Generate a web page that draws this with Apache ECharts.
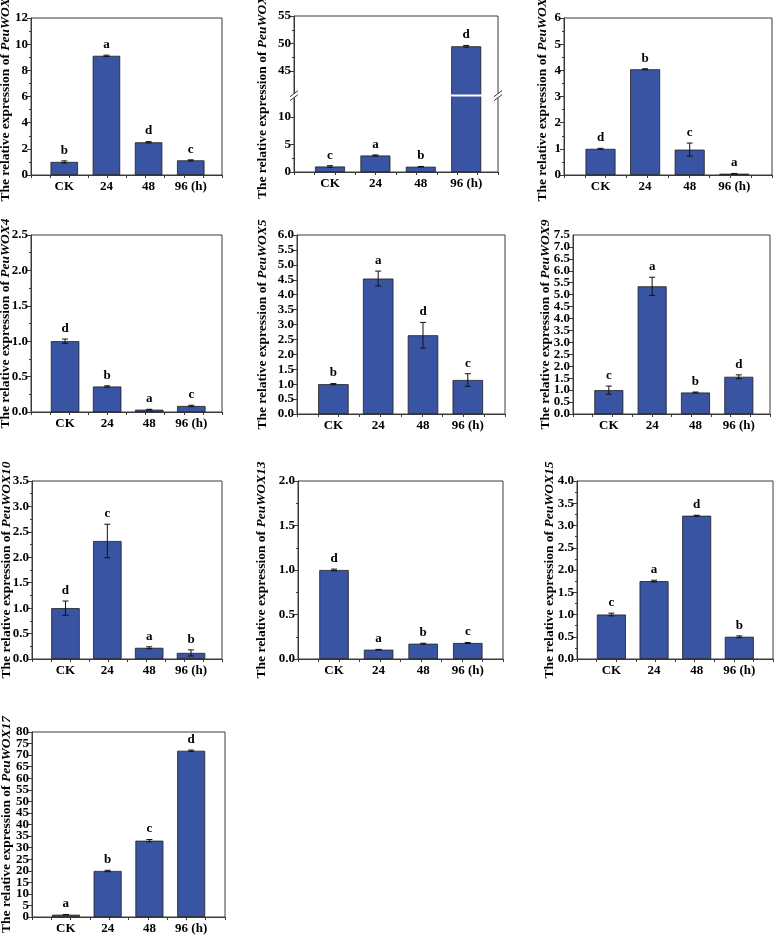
<!DOCTYPE html>
<html>
<head>
<meta charset="utf-8">
<script src="https://cdn.jsdelivr.net/npm/echarts@6/dist/echarts.min.js"></script>
<style>
html,body{margin:0;padding:0;background:#fff;}
#chart{width:774px;height:944px;}
</style>
</head>
<body>
<div id="chart"></div>
<script>
// ---------- DATA ----------
const categories = ['CK', '24', '48', '96 (h)'];
const genes = ['PeuWOX1', 'PeuWOX2', 'PeuWOX3', 'PeuWOX4', 'PeuWOX5', 'PeuWOX9', 'PeuWOX10', 'PeuWOX13', 'PeuWOX15', 'PeuWOX17'];

const wox1Values = [1.0, 9.11, 2.50, 1.12];
const wox1Errors = [0.08, 0.05, 0.05, 0.04];
const wox1Letters = ['b', 'a', 'd', 'c'];

const wox2Values = [1.0, 3.0, 0.96, 49.5];
const wox2Errors = [0.15, 0.1, 0.05, 0.15];
const wox2Letters = ['c', 'a', 'b', 'd'];

const wox3Values = [1.0, 4.04, 0.97, 0.05];
const wox3Errors = [0.02, 0.02, 0.25, 0.01];
const wox3Letters = ['d', 'b', 'c', 'a'];

const wox4Values = [1.0, 0.36, 0.033, 0.085];
const wox4Errors = [0.03, 0.01, 0.005, 0.01];
const wox4Letters = ['d', 'b', 'a', 'c'];

const wox5Values = [1.0, 4.54, 2.64, 1.14];
const wox5Errors = [0.02, 0.25, 0.43, 0.21];
const wox5Letters = ['b', 'a', 'd', 'c'];

const wox9Values = [1.0, 5.35, 0.90, 1.56];
const wox9Errors = [0.17, 0.38, 0.02, 0.08];
const wox9Letters = ['c', 'a', 'b', 'd'];

const wox10Values = [1.0, 2.32, 0.22, 0.12];
const wox10Errors = [0.14, 0.33, 0.02, 0.06];
const wox10Letters = ['d', 'c', 'a', 'b'];

const wox13Values = [1.0, 0.105, 0.172, 0.18];
const wox13Errors = [0.01, 0.003, 0.005, 0.005];
const wox13Letters = ['d', 'a', 'b', 'c'];

const wox15Values = [1.0, 1.75, 3.22, 0.50];
const wox15Errors = [0.03, 0.02, 0.01, 0.02];
const wox15Letters = ['c', 'a', 'd', 'b'];

const wox17Values = [1.0, 19.9, 33.0, 71.9];
const wox17Errors = [0.1, 0.3, 0.5, 0.3];
const wox17Letters = ['a', 'b', 'c', 'd'];

// y-axis tick definitions (max, step, decimals)
const yAxisMax = [12, 55, 6, 2.5, 6.0, 7.5, 3.5, 2.0, 4.0, 80];
const yAxisStep = [2, 5, 1, 0.5, 0.5, 0.5, 0.5, 0.5, 0.5, 5];
const yAxisDecimals = [0, 0, 0, 1, 1, 1, 1, 1, 1, 0];
const yMinorTicks = [true, true, true, true, false, false, true, true, true, false];
// axis break for PeuWOX2 and its visible tick labels
const wox2Break = { start: 13.7, end: 40.7 };
const wox2TickValues = [0, 5, 10, 45, 50, 55];

const allValues = [wox1Values, wox2Values, wox3Values, wox4Values, wox5Values, wox9Values, wox10Values, wox13Values, wox15Values, wox17Values];
const allErrors = [wox1Errors, wox2Errors, wox3Errors, wox4Errors, wox5Errors, wox9Errors, wox10Errors, wox13Errors, wox15Errors, wox17Errors];
const allLetters = [wox1Letters, wox2Letters, wox3Letters, wox4Letters, wox5Letters, wox9Letters, wox10Letters, wox13Letters, wox15Letters, wox17Letters];

// ---------- LAYOUT ----------
const layouts = [
  { left: 31, top: 18, width: 191, height: 157, xMin: 0.211, xMax: 4.741, barWidth: 27.5, nameGap: 18 },
  { left: 294, top: 16, width: 204, height: 156, xMin: 0.207, xMax: 4.70, barWidth: 30, nameGap: 24.5 },
  { left: 564, top: 18, width: 208, height: 157, xMin: 0.181, xMax: 4.846, barWidth: 30, nameGap: 14.5 },
  { left: 31, top: 235, width: 191, height: 177, xMin: 0.19, xMax: 4.73, barWidth: 28.5, nameGap: 18 },
  { left: 297, top: 235, width: 208, height: 179, xMin: 0.188, xMax: 4.83, barWidth: 30.5, nameGap: 27 },
  { left: 573, top: 235, width: 197, height: 179, xMin: 0.173, xMax: 4.72, barWidth: 29, nameGap: 20 },
  { left: 32, top: 481, width: 190, height: 178, xMin: 0.20, xMax: 4.74, barWidth: 28.5, nameGap: 18.5 },
  { left: 298, top: 481, width: 205, height: 178, xMin: 0.192, xMax: 4.79, barWidth: 29.5, nameGap: 29.5 },
  { left: 577, top: 481, width: 196, height: 178, xMin: 0.193, xMax: 4.79, barWidth: 29, nameGap: 20.5 },
  { left: 32, top: 732, width: 193, height: 185, xMin: 0.189, xMax: 4.81, barWidth: 28, nameGap: 18.5 }
];

const FONT = '"Liberation Serif", "Times New Roman", serif';
const AXIS_COLOR = '#3a3a3a';
const BAR_COLOR = '#3a54a4';
const LABEL_STYLE = { fontFamily: FONT, fontWeight: 'bold', fontSize: 13, color: '#000' };

const grids = [], xAxes = [], yAxes = [], overlayAxes = [], series = [];

layouts.forEach((L, i) => {
  grids.push({
    left: L.left, top: L.top, width: L.width, height: L.height,
    show: true, borderColor: AXIS_COLOR, borderWidth: 1, backgroundColor: 'transparent',
    outerBoundsMode: 'none', containLabel: false
  });
  xAxes.push({
    type: 'value', gridIndex: i, min: L.xMin, max: L.xMax,
    interval: (L.xMax - L.xMin) / 10,
    axisLine: { show: true, onZero: false, lineStyle: { color: AXIS_COLOR, width: 1 } },
    axisTick: { show: true, length: 3, inside: false, lineStyle: { color: AXIS_COLOR } },
    splitLine: { show: false },
    axisLabel: Object.assign({
      customValues: [1, 2, 3, 4],
      formatter: v => categories[Math.round(v) - 1] || '',
      margin: 5, hideOverlap: false
    }, LABEL_STYLE)
  });
  const dec = yAxisDecimals[i];
  const step = yAxisStep[i];
  const max = yAxisMax[i];
  const nSteps = Math.round(max / step);
  const parity = v => {
    const r = v / step;
    if (Math.abs(r - Math.round(r)) > 1e-6) return -1;
    return Math.round(r) % 2;
  };
  const useOverlay = i !== 1;
  const y = {
    type: 'value', gridIndex: i, position: 'left', min: 0, max: max, interval: step,
    axisLine: { show: true, onZero: false, lineStyle: { color: AXIS_COLOR, width: 1 } },
    axisTick: { show: true, length: 4, inside: false, lineStyle: { color: AXIS_COLOR } },
    minorTick: { show: yMinorTicks[i], splitNumber: 2, length: 2, lineStyle: { color: AXIS_COLOR } },
    splitLine: { show: false },
    axisLabel: Object.assign({
      formatter: v => {
        const p = parity(v);
        if (p < 0) return '';
        if (useOverlay && p === 1) return '';
        return v.toFixed(dec);
      },
      showMinLabel: true,
      showMaxLabel: useOverlay ? (nSteps % 2 === 0) : true,
      hideOverlap: false, margin: 3
    }, LABEL_STYLE),
    name: 'The relative expression of {i|' + genes[i] + '}',
    nameLocation: 'middle', nameRotate: 90, nameGap: L.nameGap, nameMoveOverlap: false,
    nameTextStyle: {
      fontFamily: FONT, fontWeight: 'bold', fontSize: 13.5, color: '#000',
      rich: { i: { fontFamily: FONT, fontWeight: 'bold', fontStyle: 'italic', fontSize: 13.5, color: '#000' } }
    }
  };
  if (i === 1) {
    y.breaks = [{ start: wox2Break.start, end: wox2Break.end, gap: '1.2%' }];
    y.breakArea = {
      show: true,
      itemStyle: { color: '#fff', borderColor: '#fff', borderWidth: 0, opacity: 1 },
      zigzagAmplitude: 0, zigzagZ: 100, expandOnClick: false
    };
    y.axisLabel.customValues = wox2TickValues;
    y.axisTick.customValues = wox2TickValues;
  }
  yAxes.push(y);

  if (useOverlay) {
    // second label layer carrying the odd-step labels, so dense labels are never dropped
    overlayAxes.push({
      type: 'value', gridIndex: i, position: 'left', offset: 0, min: 0, max: max, interval: step,
      axisLine: { show: false }, axisTick: { show: false }, splitLine: { show: false },
      axisLabel: Object.assign({
        formatter: v => (parity(v) === 1 ? v.toFixed(dec) : ''),
        showMinLabel: false,
        showMaxLabel: nSteps % 2 === 1,
        hideOverlap: false, margin: 3
      }, LABEL_STYLE)
    });
  }

  const vals = allValues[i], errs = allErrors[i], lets = allLetters[i];
  series.push({
    type: 'bar', xAxisIndex: i, yAxisIndex: i, barWidth: L.barWidth,
    itemStyle: { color: BAR_COLOR, borderColor: '#1e1e1e', borderWidth: 0.8 },
    data: vals.map((v, k) => [k + 1, v]),
    silent: true, animation: false
  });
  series.push({
    type: 'custom', xAxisIndex: i, yAxisIndex: i, clip: false, z: 5,
    encode: { x: 0, y: 1 },
    data: vals.map((v, k) => [k + 1, v, errs[k]]),
    renderItem: function (params, api) {
      const x = api.value(0), v = api.value(1), e = api.value(2);
      const pt = api.coord([x, v + e]);
      const pb = api.coord([x, v - e]);
      const cap = 3;
      const ls = { stroke: '#111', lineWidth: 1 };
      return {
        type: 'group',
        children: [
          { type: 'line', shape: { x1: pt[0], y1: pt[1], x2: pb[0], y2: pb[1] }, style: ls },
          { type: 'line', shape: { x1: pt[0] - cap, y1: pt[1], x2: pt[0] + cap, y2: pt[1] }, style: ls },
          { type: 'line', shape: { x1: pb[0] - cap, y1: pb[1], x2: pb[0] + cap, y2: pb[1] }, style: ls },
          { type: 'text', style: {
              text: lets[params.dataIndex], x: pt[0], y: pt[1] - 4,
              textAlign: 'center', textVerticalAlign: 'bottom',
              font: 'bold 13px ' + FONT, fill: '#000'
          } }
        ]
      };
    },
    silent: true, animation: false
  });
});

const chart = echarts.init(document.getElementById('chart'), null, { renderer: 'canvas' });
chart.setOption({
  animation: false,
  backgroundColor: '#fff',
  grid: grids, xAxis: xAxes, yAxis: yAxes.concat(overlayAxes), series: series
});

// break marks ("//") on both vertical edges of the PeuWOX2 panel, placed via the axis scale
(function () {
  const L = layouts[1];
  const pLow = chart.convertToPixel({ xAxisIndex: 1, yAxisIndex: 1 }, [L.xMin, wox2Break.start]);
  const pHigh = chart.convertToPixel({ xAxisIndex: 1, yAxisIndex: 1 }, [L.xMax, wox2Break.end]);
  if (!pLow || !pHigh) return;
  const yMid = (pLow[1] + pHigh[1]) / 2;
  const xs = [pLow[0], pHigh[0]];
  const els = [];
  xs.forEach(x => {
    els.push({ type: 'rect', shape: { x: x - 1.5, y: yMid - 2, width: 3, height: 4 }, style: { fill: '#fff' }, z: 200 });
    [-2, 2].forEach(d => {
      els.push({ type: 'line', shape: { x1: x - 4, y1: yMid + d + 3, x2: x + 4, y2: yMid + d - 3 },
        style: { stroke: AXIS_COLOR, lineWidth: 1 }, z: 201 });
    });
  });
  chart.setOption({ graphic: els });
})();
</script>
</body>
</html>
